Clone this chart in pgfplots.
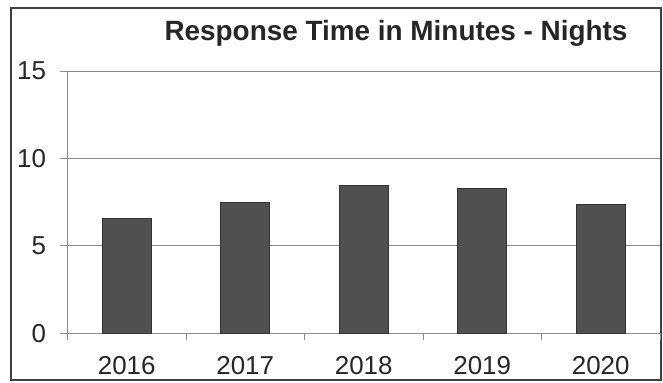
\documentclass[border=0pt]{standalone}
\usepackage{fontspec}
\setmainfont{Liberation Sans}
\usepackage{pgfplots}
\pgfplotsset{compat=1.18}
\definecolor{barfill}{HTML}{505050}
\definecolor{gridgray}{HTML}{8C8C8C}
\begin{document}
\begin{tikzpicture}
\useasboundingbox (-67.5bp,-49.7bp) rectangle (595.5bp,333.3bp);
\draw[line width=1.2bp, black!75] (-56.5bp,-46.7bp) rectangle (593.5bp,325.3bp);
\node[font=\bfseries\fontsize{28}{32}\selectfont, text=black!85] at (328.5bp,300.3bp) {Response Time in Minutes - Nights};
\begin{axis}[
  at={(0,0)}, anchor=south west,
  scale only axis,
  width=592.5bp, height=262.3bp,
  xmin=-0.5, xmax=4.5,
  ymin=0, ymax=15,
  ytick={0,5,10,15},
  xtick={0,1,2,3,4},
  xticklabels={2016,2017,2018,2019,2020},
  minor xtick={-0.5,0.5,1.5,2.5,3.5,4.5},
  axis x line*=bottom, axis y line*=left,
  axis line style={gridgray, line width=0.8bp, -},
  ymajorgrids, major grid style={gridgray, line width=0.8bp},
  major x tick style={draw=none},
  minor x tick style={gridgray, line width=0.8bp},
  major y tick style={gridgray, line width=0.8bp},
  tick align=outside,
  major tick length=7bp, minor tick length=7bp,
  tick label style={font=\fontsize{26}{29}\selectfont, text=black!85},
  /pgf/number format/assume math mode=true,
  yticklabel style={xshift=-11bp},
  xticklabel style={yshift=-13bp},
  ybar, bar width=49bp,
  clip=false,
]
\addplot[fill=barfill, draw=black!80, line width=1bp] coordinates {
  (0,6.57) (1,7.49) (2,8.43) (3,8.26) (4,7.37)
};
\end{axis}
\end{tikzpicture}
\end{document}
